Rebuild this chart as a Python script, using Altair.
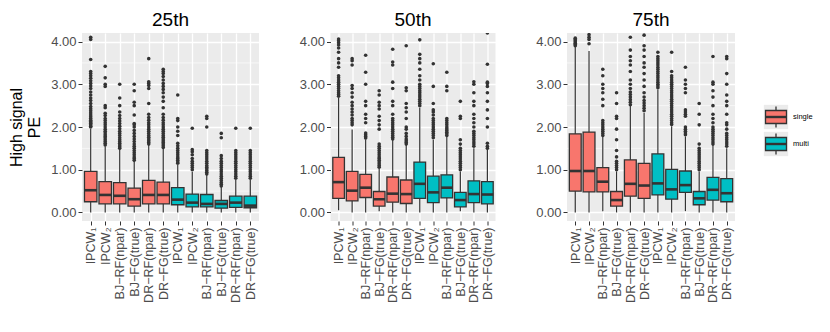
import altair as alt
import pandas as pd

percentiles = ["25th", "50th", "75th"]
methods = ["IPCW\u2081", "IPCW\u2082", "BJ\u2212RF(npar)", "BJ\u2212FG(true)", "DR\u2212RF(npar)", "DR\u2212FG(true)"]
groups = ["single", "multi"]
keys = [f"{g}|{m}" for g in groups for m in methods]

# ---- 25th percentile panel ----
p25_lower = [0.0, 0.0, 0.0, 0.0, 0.0, 0.0, 0.0, 0.0, 0.0, 0.0, 0.0, 0.0]
p25_q1 = [0.25, 0.20, 0.20, 0.15, 0.20, 0.20, 0.18, 0.13, 0.13, 0.10, 0.12, 0.11]
p25_med = [0.52, 0.41, 0.39, 0.31, 0.41, 0.41, 0.30, 0.23, 0.20, 0.20, 0.23, 0.16]
p25_q3 = [0.96, 0.72, 0.70, 0.57, 0.75, 0.71, 0.58, 0.43, 0.42, 0.28, 0.38, 0.38]
p25_upper = [1.96, 1.55, 1.47, 1.20, 1.58, 1.50, 1.11, 0.95, 0.88, 0.60, 0.76, 0.76]
p25_out = [
    [2.0, 2.02, 2.05, 2.08, 2.1, 2.13, 2.16, 2.2, 2.24, 2.28, 2.33, 2.38, 2.43, 2.48, 2.55, 2.62, 2.68, 2.75, 2.82, 2.9, 2.96, 3.02, 3.08, 3.14, 3.2, 3.25, 3.3, 3.58, 4.05, 4.1],
    [1.58, 1.62, 1.66, 1.7, 1.74, 1.78, 1.82, 1.86, 1.9, 1.95, 2.0, 2.05, 2.1, 2.15, 2.2, 2.27, 2.32, 2.45, 2.5, 2.95, 3.0, 3.15, 3.42],
    [1.5, 1.54, 1.58, 1.62, 1.66, 1.7, 1.75, 1.8, 1.85, 1.9, 1.96, 2.02, 2.08, 2.14, 2.2, 2.27, 2.35, 2.5, 2.68, 3.0],
    [1.22, 1.26, 1.3, 1.35, 1.4, 1.45, 1.5, 1.55, 1.6, 1.66, 1.72, 1.78, 1.85, 1.92, 2.0, 2.05, 2.08, 2.28, 2.5, 2.58, 2.85, 3.0],
    [1.6, 1.64, 1.68, 1.72, 1.76, 1.8, 1.85, 1.9, 1.95, 2.0, 2.05, 2.1, 2.16, 2.22, 2.3, 2.55, 2.9, 2.97, 3.02, 3.06, 3.6],
    [1.52, 1.56, 1.6, 1.64, 1.68, 1.72, 1.76, 1.8, 1.85, 1.9, 1.95, 2.0, 2.05, 2.1, 2.16, 2.22, 2.3, 2.45, 2.6, 2.7, 2.8, 2.88, 2.95, 3.02, 3.1, 3.18, 3.25, 3.3, 3.35],
    [1.15, 1.18, 1.22, 1.26, 1.3, 1.35, 1.4, 1.45, 1.5, 1.56, 1.62, 1.8, 1.9, 2.0, 2.15, 2.2, 2.75],
    [1.0, 1.05, 1.1, 1.15, 1.2, 1.26, 1.35, 1.42, 1.47, 1.97],
    [0.9, 0.94, 0.98, 1.02, 1.06, 1.1, 1.15, 1.2, 1.25, 1.3, 1.35, 1.4, 1.45, 2.0, 2.2, 2.25],
    [0.62, 0.66, 0.7, 0.75, 0.8, 0.85, 0.9, 0.95, 1.0, 1.05, 1.1, 1.15, 1.2, 1.26, 1.33, 1.75, 1.85],
    [0.8, 0.85, 0.9, 0.95, 1.0, 1.05, 1.1, 1.15, 1.2, 1.25, 1.3, 1.35, 1.4, 1.45, 1.97],
    [0.8, 0.85, 0.9, 0.95, 1.0, 1.05, 1.1, 1.15, 1.2, 1.25, 1.3, 1.35, 1.4, 1.45, 1.97],
]

# ---- 50th percentile panel ----
p50_lower = [0.05, 0.0, 0.0, 0.03, 0.0, 0.0, 0.0, 0.0, 0.0, 0.03, 0.0, 0.0]
p50_q1 = [0.33, 0.27, 0.35, 0.15, 0.24, 0.21, 0.33, 0.23, 0.34, 0.13, 0.23, 0.20]
p50_med = [0.71, 0.51, 0.58, 0.31, 0.44, 0.43, 0.67, 0.47, 0.58, 0.29, 0.43, 0.42]
p50_q3 = [1.29, 0.96, 0.89, 0.49, 0.83, 0.76, 1.18, 0.85, 0.88, 0.47, 0.74, 0.72]
p50_upper = [2.68, 1.94, 1.70, 1.03, 1.70, 1.58, 2.45, 1.70, 1.78, 0.96, 1.50, 1.46]
p50_out = [
    [2.72, 2.76, 2.8, 2.85, 2.9, 2.95, 3.0, 3.05, 3.1, 3.15, 3.2, 3.4, 3.5, 3.6, 3.75, 3.85, 3.92, 3.97, 4.02, 4.06],
    [2.05, 2.1, 2.15, 2.2, 2.28, 2.35, 2.42, 2.5, 2.58, 2.7, 2.8, 2.9, 2.97, 3.45, 3.55, 3.6],
    [1.74, 1.78, 1.82, 1.86, 2.1, 2.2, 2.3, 2.5, 2.6, 3.0, 3.28, 3.68],
    [1.06, 1.1, 1.14, 1.18, 1.22, 1.26, 1.3, 1.35, 1.4, 1.45, 1.5, 1.55, 1.6, 1.95, 2.05, 2.15, 2.25, 2.42, 2.5, 2.58, 2.75, 2.85],
    [1.72, 1.76, 1.8, 1.85, 1.9, 1.95, 2.0, 2.05, 2.1, 2.15, 2.2, 2.3, 2.5, 2.6, 2.9, 3.05, 3.45, 3.52, 3.82],
    [1.6, 1.64, 1.68, 1.72, 1.78, 1.85, 1.95, 2.0, 2.2, 2.35, 2.45, 2.55, 2.85, 2.92, 3.9],
    [2.5, 2.55, 2.6, 2.65, 2.7, 2.75, 2.8, 2.85, 2.9, 2.95, 3.0, 3.1, 3.2, 3.35, 3.5, 3.6, 3.7, 4.04],
    [1.75, 1.8, 1.85, 1.9, 1.95, 2.0, 2.05, 2.1, 2.15, 2.2, 2.28, 2.35, 2.4, 2.55, 2.95, 3.48],
    [1.8, 1.84, 1.88, 1.92, 1.96, 2.0, 2.05, 2.1, 2.15, 2.2, 2.85, 2.95, 3.28],
    [1.0, 1.05, 1.1, 1.15, 1.2, 1.25, 1.3, 1.35, 1.4, 1.45, 1.5, 1.6, 1.7, 2.2, 2.25, 2.6],
    [1.55, 1.6, 1.65, 1.7, 1.75, 1.8, 1.85, 1.9, 2.0, 2.1, 2.2, 2.3, 2.5, 2.6, 2.8, 3.0, 3.06],
    [1.5, 1.55, 1.62, 2.0, 2.2, 2.4, 2.6, 2.8, 2.95, 3.02, 3.05, 3.47, 4.2],
]

# ---- 75th percentile panel ----
p75_lower = [0.0, 0.0, 0.03, 0.0, 0.0, 0.0, 0.0, 0.0, 0.03, 0.0, 0.0, 0.0]
p75_q1 = [0.50, 0.48, 0.48, 0.15, 0.38, 0.33, 0.41, 0.31, 0.47, 0.18, 0.29, 0.25]
p75_med = [0.97, 0.97, 0.72, 0.29, 0.67, 0.63, 0.68, 0.54, 0.64, 0.33, 0.53, 0.45]
p75_q3 = [1.84, 1.88, 1.05, 0.49, 1.23, 1.15, 1.37, 1.01, 0.97, 0.49, 0.82, 0.79]
p75_upper = [3.87, 3.78, 1.78, 0.96, 2.49, 2.33, 2.88, 2.02, 1.78, 0.96, 1.58, 1.50]
p75_out = [
    [3.9, 3.93, 3.96, 3.99, 4.02, 4.05, 4.08],
    [3.95, 4.05, 4.1, 4.16],
    [1.8, 1.85, 1.9, 1.95, 2.0, 2.05, 2.1, 2.15, 2.5, 2.65, 2.8, 2.9, 3.0, 3.2, 3.35],
    [1.0, 1.05, 1.1, 1.15, 1.2, 1.3, 1.45, 1.7, 1.95, 2.2, 2.25, 2.55, 2.8],
    [2.52, 2.58, 2.64, 2.7, 2.76, 2.82, 2.9, 3.0, 3.1, 3.3, 3.45, 3.55, 3.65, 3.8, 4.1],
    [2.38, 2.44, 2.5, 2.56, 2.62, 2.7, 2.8, 2.95, 3.1, 3.25, 3.4, 3.5, 3.65, 3.8, 3.9, 4.15],
    [2.92, 2.96, 3.0, 3.05, 3.1, 3.15, 3.2, 3.25, 3.3, 3.35, 3.4, 3.45, 3.5, 3.55, 3.6, 3.65, 3.75],
    [2.06, 2.1, 2.15, 2.2, 2.25, 2.3, 2.35, 2.4, 2.45, 2.5, 2.55, 2.6, 2.65, 2.7, 2.75, 2.8, 2.85, 2.9, 2.95, 3.0, 3.05, 3.1, 3.15, 3.2, 3.3, 3.75],
    [1.82, 1.86, 1.9, 1.95, 2.0, 2.25, 2.3, 2.35, 2.4, 2.8, 2.9, 3.0, 3.1, 3.4],
    [1.0, 1.05, 1.1, 1.15, 1.2, 1.25, 1.3, 1.35, 1.4, 1.45, 1.5, 1.6, 2.05, 2.3, 2.55],
    [1.6, 1.65, 1.7, 1.75, 1.8, 1.85, 1.9, 1.95, 2.0, 2.1, 2.2, 2.3, 2.5, 2.7, 2.85, 3.0, 3.05, 3.65],
    [1.55, 1.6, 1.65, 1.7, 1.75, 1.8, 1.85, 1.95, 2.05, 2.1, 2.3, 2.5, 2.6, 2.75, 3.0, 3.25, 3.6, 3.65],
]

y_ticks = [0, 1, 2, 3, 4]
y_minor = [0.5, 1.5, 2.5, 3.5]
y_title = ["High signal", "PE"]
fill_colors = ["#F8766D", "#00BFC4"]

FONT = "Liberation Sans"
DARK = "#333333"
GREY30 = "#4D4D4D"
PANEL_BG = "#EBEBEB"

fill_scale = alt.Scale(domain=groups, range=fill_colors)
y_scale = alt.Scale(domain=[-0.2, 4.2], nice=False, zero=False)


def make_frames(lower, q1, med, q3, upper, outs):
    box = pd.DataFrame({
        "key": keys,
        "group": [k.split("|")[0] for k in keys],
        "lower": lower, "q1": q1, "med": med, "q3": q3, "upper": upper,
    })
    out = pd.DataFrame(
        [{"key": k, "value": v} for k, vals in zip(keys, outs) for v in vals]
    )
    return box, out


def panel(title, width, box_df, out_df, first):
    step = width / 12.2
    bw = step * 0.86
    x_axis = alt.Axis(
        labelAngle=-90, labelExpr="split(datum.label, '|')[1]",
        labelFontSize=12.5, labelColor=GREY30, labelFont=FONT, labelPadding=2,
        tickColor=DARK, tickSize=4, tickWidth=1, domain=False,
        grid=True, gridColor="white", gridWidth=1.3, title=None,
    )
    y_axis_kw = dict(
        values=y_ticks, format=".2f", labelFontSize=13, labelColor=GREY30,
        labelFont=FONT, labelPadding=2, tickColor=DARK, tickSize=4, tickWidth=1,
        domain=False, grid=True, gridColor="white", gridWidth=1.3,
    )
    if first:
        y_axis_kw.update(title=y_title, titleFontSize=16, titleFont=FONT,
                         titleFontWeight="normal", titleColor="black",
                         titlePadding=8, titleLineHeight=18)
    else:
        y_axis_kw.update(title=None)
    y_axis = alt.Axis(**y_axis_kw)

    def X():
        return alt.X("key:N", scale=alt.Scale(type="point", domain=keys, padding=0.6), axis=x_axis)

    def Y(field):
        return alt.Y(f"{field}:Q", scale=y_scale, axis=y_axis)

    minor = alt.Chart(pd.DataFrame({"minor": y_minor})).mark_rule(
        color="white", strokeWidth=0.6).encode(y=Y("minor"))
    base = alt.Chart(box_df)
    whisk = base.mark_rule(color=DARK, strokeWidth=1.2).encode(
        x=X(), y=Y("lower"), y2="upper")
    boxes = base.mark_bar(size=bw, stroke=DARK, strokeWidth=1.3, opacity=1).encode(
        x=X(), y=Y("q1"), y2="q3",
        fill=alt.Fill("group:N", scale=fill_scale, legend=None))
    meds = base.mark_tick(color=DARK, size=bw, thickness=2.6, opacity=1).encode(
        x=X(), y=Y("med"))
    outs = alt.Chart(out_df).mark_circle(size=13, color=DARK, opacity=1, clip=True).encode(
        x=X(), y=Y("value"))
    return alt.layer(minor, whisk, boxes, meds, outs).properties(
        width=width, height=188,
        title=alt.TitleParams(title, fontSize=19, font=FONT, fontWeight="normal",
                              color="black", anchor="middle", offset=3),
        view=alt.ViewBackground(fill=PANEL_BG, stroke=None),
    )


b25, o25 = make_frames(p25_lower, p25_q1, p25_med, p25_q3, p25_upper, p25_out)
b50, o50 = make_frames(p50_lower, p50_q1, p50_med, p50_q3, p50_upper, p50_out)
b75, o75 = make_frames(p75_lower, p75_q1, p75_med, p75_q3, p75_upper, p75_out)

c1 = panel(percentiles[0], 177, b25, o25, True)
c2 = panel(percentiles[1], 165, b50, o50, False)
c3 = panel(percentiles[2], 168, b75, o75, False)

# ---- legend drawn as a small chart ----
leg_df = pd.DataFrame({"group": groups})
leg_y = alt.Y("group:N", scale=alt.Scale(type="point", domain=groups, range=[84, 111], padding=0), axis=None)
leg_base = alt.Chart(leg_df).encode(y=leg_y, x=alt.value(12))
leg_bg = leg_base.mark_square(size=590, color=PANEL_BG, opacity=1)
box_path = "M-1,-0.62H1V0.62H-1Z M0,-0.62V-1 M0,0.62V1"
leg_box = leg_base.mark_point(shape=box_path, size=440, filled=True, stroke=DARK,
                              strokeWidth=1.3, opacity=1).encode(
    fill=alt.Fill("group:N", scale=fill_scale, legend=None))
leg_med = leg_base.mark_point(shape="M-1,0H1", size=440, filled=False, color=DARK,
                              strokeWidth=2.4, opacity=1)
leg_txt = leg_base.mark_text(align="left", baseline="middle", dx=17, fontSize=7.5,
                             font=FONT, color="black").encode(text="group:N")
legend = alt.layer(leg_bg, leg_box, leg_med, leg_txt).properties(
    width=24, height=188,
    title=alt.TitleParams(" ", fontSize=19, font=FONT, fontWeight="normal", offset=3),
    view=alt.ViewBackground(fill=None, stroke=None),
)

chart = alt.hconcat(
    alt.hconcat(c1, c2, c3, spacing=38.5),
    legend,
    spacing=24,
).properties(
    padding={"top": 3, "left": 0, "right": 0, "bottom": 0}
).configure(font=FONT).configure_view(stroke=None).configure_title(fontWeight="normal")

chart.save("out.html", embed_options={"renderer": "svg", "actions": False})
